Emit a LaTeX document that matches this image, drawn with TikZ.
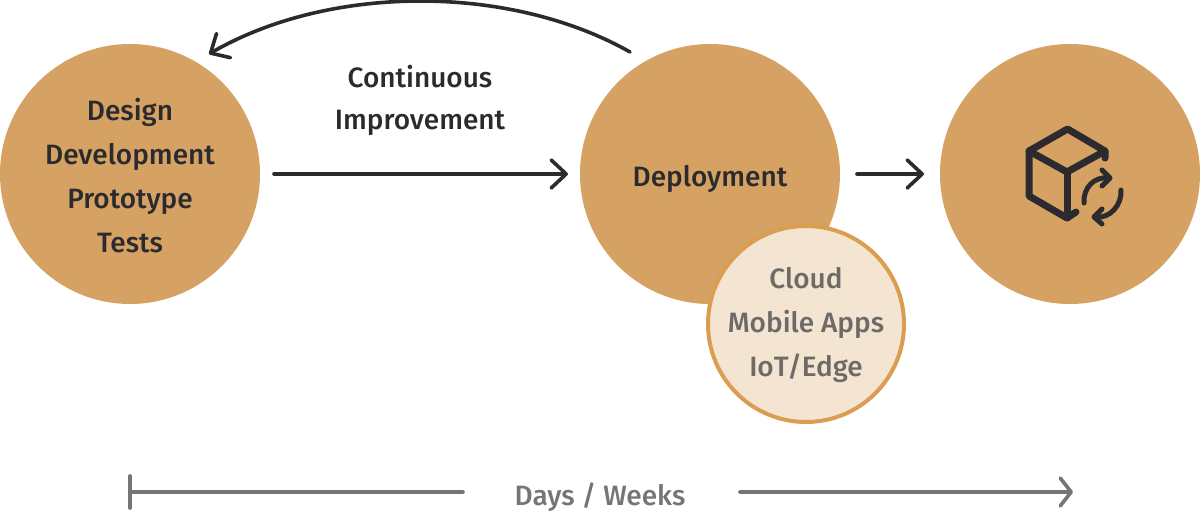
\documentclass[tikz,border=0pt]{standalone}
\usepackage{fontspec}
\setmainfont{Fira Sans}[UprightFont=* Medium,BoldFont=* SemiBold]
\usetikzlibrary{arrows.meta}
\definecolor{gold}{HTML}{D5A264}
\definecolor{rim}{HTML}{DB9D52}
\definecolor{pale}{HTML}{F4E5D3}
\definecolor{ink}{HTML}{2B2A2E}
\definecolor{greyt}{HTML}{6E6A66}
\definecolor{greyl}{HTML}{757575}
\tikzset{
  x=1pt,y=-1pt,
  bigdisc/.style={circle,fill=gold,minimum size=260pt,inner sep=0pt,outer sep=0pt},
  smalldisc/.style={circle,fill=pale,draw=rim,line width=4pt,minimum size=196pt,inner sep=0pt,outer sep=0pt},
  lab/.style={font=\fontsize{28pt}{44pt}\selectfont,align=center,text=ink,inner sep=0pt},
  arr/.style={draw=ink,line width=3.6pt,line cap=round,line join=round,-{Straight Barb[length=15pt,width=28pt,round]}},
  greyline/.style={draw=greyl,line width=3.6pt,line cap=round,line join=round},
  ico/.style={draw=ink,line width=7pt,line cap=round,line join=round},
  icosmall/.style={draw=ink,line width=5pt,line cap=round,line join=round},
}
\begin{document}
\begin{tikzpicture}
\useasboundingbox (0,0) rectangle (1200,514);
\node[bigdisc] (design) at (130,174) {};
\node[bigdisc] (deploy) at (710,174) {};
\node[bigdisc] (release) at (1070,174) {};
\node[smalldisc] (targets) at (806,324) {};
\node[lab] (designtxt) at (130,175.5) {Design\\Development\\Prototype\\Tests};
\node[lab] (deploytxt) at (710,179) {Deployment};
\node[lab,text=greyt] (targetstxt) at (806,325) {Cloud\\Mobile Apps\\IoT/Edge};
\node[lab,font=\fontsize{28pt}{42pt}\selectfont] (loop) at (420,100) {Continuous\\Improvement};
\node[lab,text=greyl] (span) at (600,497) {Days / Weeks};
\coordinate (loopstart) at (630,52);
\coordinate (loopend) at (209,54);
\draw[arr] ([xshift=14pt]design.east) -- ([xshift=-12pt]deploy.west);
\draw[arr] ([xshift=17pt]deploy.east) -- ([xshift=-16pt]release.west);
\draw[arr] (loopstart) .. controls (510,-16) and (330,-16) .. (loopend);
% time line
\coordinate (t0) at (130,492);
\coordinate (t0e) at (463,492);
\coordinate (t1s) at (740,492);
\coordinate (t1) at (1073,492);
\draw[greyline] (t0) -- (t0e);
\draw[greyline] (130,476) -- (130,508);
\draw[greyline,-{Straight Barb[length=11pt,width=28pt,round]}] (t1s) -- (t1);
% icon
\draw[ico] (1105,158) -- (1105,151) -- (1067.5,129) -- (1029,151) -- (1029,196) -- (1067,218) -- (1076,212);
\draw[ico] (1029,151) -- (1067,172) -- (1105,151);
\draw[ico] (1067,172) -- (1067,218);
\draw[icosmall] (1084,203) .. controls (1083,188) and (1094,176) .. (1109,178);
\draw[icosmall] (1102,170) -- (1110,178) -- (1102,186);
\draw[icosmall] (1121,190) .. controls (1122,205) and (1110,219) .. (1095,217);
\draw[icosmall] (1102,209) -- (1094,217) -- (1102,224);
\end{tikzpicture}
\end{document}
